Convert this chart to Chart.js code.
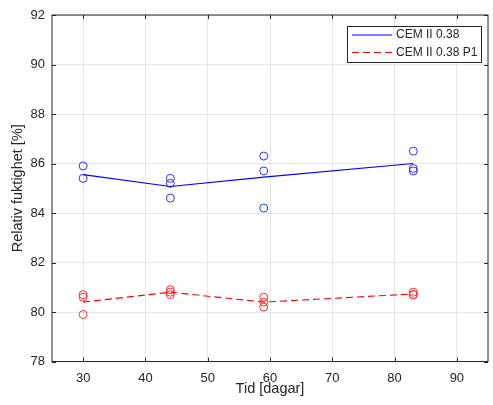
<!DOCTYPE html>
<html>
<head>
<meta charset="utf-8">
<script src="https://cdn.jsdelivr.net/npm/chart.js@4.4.1/dist/chart.umd.min.js"></script>
<style>
  html, body { margin: 0; padding: 0; background: #ffffff; }
  #wrap { width: 493px; height: 405px; }
</style>
</head>
<body>
<div id="wrap"><canvas id="c" width="493" height="405"></canvas></div>
<script>
// Measuring days
const days = [30, 44, 59, 83];

// Individual measurements of relative humidity [%] per day
const obsA = [[85.9, 85.4], [85.4, 85.2, 84.6], [86.3, 85.7, 84.2], [86.5, 85.8, 85.7]];
const obsB = [[80.7, 80.6, 79.9], [80.9, 80.8, 80.7], [80.6, 80.4, 80.2], [80.8, 80.7, 80.7]];

// Mean curves
const meanA = [85.55, 85.07, 85.45, 86.0];
const meanB = [80.4, 80.8, 80.4, 80.73];

// Axis ticks
const xTicks = [30, 40, 50, 60, 70, 80, 90];
const yTicks = [78, 80, 82, 84, 86, 88, 90, 92];

const seriesNames = ['CEM II 0.38', 'CEM II 0.38 P1'];
const seriesColors = ['#0000ff', '#ff0000'];
const markerColors = ['#3030ff', '#ff3030'];
const seriesDash = [[], [7, 4]];

const AX = '#262626';
const FONT = "'Liberation Sans', Arial, Helvetica, sans-serif";

function points(obs) {
  const out = [];
  obs.forEach((vals, i) => vals.forEach(v => out.push({ x: days[i], y: v })));
  return out;
}
function curve(vals) {
  return vals.map((v, i) => ({ x: days[i], y: v }));
}

// Frame around the plot area with inward tick marks, plus the boxed legend
const framePlugin = {
  id: 'frame',
  afterDatasetsDraw(chart) {
    const { ctx, chartArea: a, scales } = chart;
    ctx.save();
    ctx.strokeStyle = AX;
    ctx.lineWidth = 1;
    ctx.setLineDash([]);
    ctx.strokeRect(a.left, a.top, a.right - a.left, a.bottom - a.top);
    const tl = 4;
    ctx.beginPath();
    xTicks.forEach(t => {
      const px = Math.round(scales.x.getPixelForValue(t)) + 0.5;
      ctx.moveTo(px, a.bottom); ctx.lineTo(px, a.bottom - tl);
      ctx.moveTo(px, a.top); ctx.lineTo(px, a.top + tl);
    });
    yTicks.forEach(t => {
      const py = Math.round(scales.y.getPixelForValue(t)) + 0.5;
      ctx.moveTo(a.left, py); ctx.lineTo(a.left + tl, py);
      ctx.moveTo(a.right, py); ctx.lineTo(a.right - tl, py);
    });
    ctx.stroke();

    // legend
    const lx = 347.5, ly = 26.5, lw = 134, lh = 36;
    ctx.fillStyle = '#ffffff';
    ctx.fillRect(lx, ly, lw, lh);
    ctx.strokeStyle = AX;
    ctx.strokeRect(lx, ly, lw, lh);
    ctx.font = '12px ' + FONT;
    ctx.textBaseline = 'middle';
    ctx.textAlign = 'left';
    seriesNames.forEach((name, i) => {
      const y = ly + 8.5 + i * 17.5;
      ctx.strokeStyle = seriesColors[i];
      ctx.lineWidth = 1.2;
      ctx.setLineDash(seriesDash[i]);
      ctx.beginPath();
      ctx.moveTo(352, y); ctx.lineTo(392, y);
      ctx.stroke();
      ctx.setLineDash([]);
      ctx.fillStyle = AX;
      ctx.fillText(name, 396, y);
    });
    ctx.restore();
  }
};

new Chart(document.getElementById('c'), {
  type: 'scatter',
  data: {
    datasets: [
      {
        label: seriesNames[0],
        data: curve(meanA), showLine: true,
        borderColor: seriesColors[0], borderWidth: 1.1, borderDash: seriesDash[0], pointRadius: 0, pointHoverRadius: 0
      },
      {
        label: seriesNames[1],
        data: curve(meanB), showLine: true,
        borderColor: seriesColors[1], borderWidth: 1.1, borderDash: seriesDash[1], pointRadius: 0, pointHoverRadius: 0
      },
      {
        label: seriesNames[0] + ' mätningar',
        data: points(obsA), showLine: false,
        pointStyle: 'circle', pointRadius: 4, borderColor: markerColors[0], backgroundColor: 'rgba(0,0,0,0)',
        pointBorderWidth: 1
      },
      {
        label: seriesNames[1] + ' mätningar',
        data: points(obsB), showLine: false,
        pointStyle: 'circle', pointRadius: 4, borderColor: markerColors[1], backgroundColor: 'rgba(0,0,0,0)',
        pointBorderWidth: 1
      }
    ]
  },
  options: {
    responsive: false,
    animation: false,
    events: [],
    layout: { padding: { top: 15, right: 2, left: 0, bottom: 0 } },
    plugins: { legend: { display: false }, tooltip: { enabled: false } },
    scales: {
      x: {
        type: 'linear', min: 25, max: 95,
        afterBuildTicks(s) { s.ticks = xTicks.map(v => ({ value: v })); },
        afterFit(s) { s.height = 43.5; },
        grid: { color: 'rgba(38,38,38,0.11)', drawTicks: false, lineWidth: 1 },
        border: { display: false },
        ticks: { color: AX, font: { family: FONT, size: 13 }, padding: 9, maxRotation: 0 },
        title: { display: true, text: 'Tid [dagar]', color: AX, font: { family: FONT, size: 14.5 }, padding: { top: 0, bottom: 7 } }
      },
      y: {
        type: 'linear', min: 78, max: 92,
        afterBuildTicks(s) { s.ticks = yTicks.map(v => ({ value: v })); },
        afterFit(s) { s.width = 52; },
        grid: { color: 'rgba(38,38,38,0.11)', drawTicks: false, lineWidth: 1 },
        border: { display: false },
        ticks: { color: AX, font: { family: FONT, size: 13 }, padding: 7 },
        title: { display: true, text: 'Relativ fuktighet [%]', color: AX, font: { family: FONT, size: 14.5 }, padding: { top: 9, bottom: 0 } }
      }
    }
  },
  plugins: [framePlugin]
});
</script>
</body>
</html>
